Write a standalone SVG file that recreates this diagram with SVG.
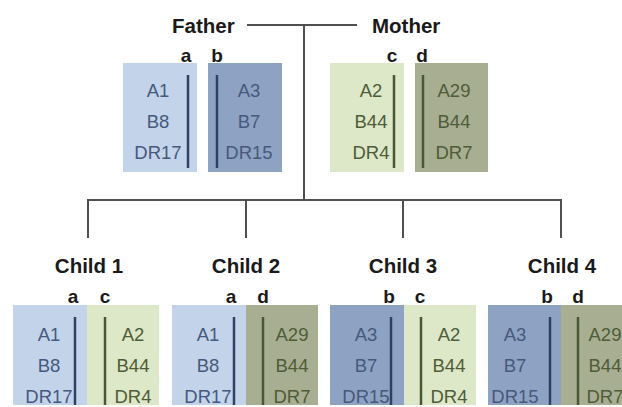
<svg xmlns="http://www.w3.org/2000/svg" width="622" height="407" viewBox="0 0 622 407">
<style>
.hdr{font-family:"Liberation Sans",Arial,sans-serif;font-weight:bold;font-size:20.5px;fill:#1a1a1a}
.let{font-family:"Liberation Sans",Arial,sans-serif;font-weight:bold;font-size:19px;fill:#1a1a1a;text-anchor:middle}
.v{font-family:"Liberation Sans",Arial,sans-serif;font-size:18.5px;text-anchor:middle}
.tb{fill:#46597c}
.tg{fill:#4f5c38}
.ba{fill:#c3d4ea}
.bb{fill:#8ea3c3}
.bc{fill:#dde8c8}
.bd{fill:#a8ae92}
.barb{stroke:#2f4060;stroke-width:2.5}
.barg{stroke:#4b5634;stroke-width:2.5}
.con{stroke:#505050;stroke-width:2;fill:none}
</style>
<g id="connectors">
<line class="con" x1="247" y1="25" x2="357" y2="25"/>
<line class="con" x1="304" y1="25" x2="304" y2="200"/>
<polyline class="con" points="88,238 88,200 561,200 561,238"/>
<line class="con" x1="246" y1="200" x2="246" y2="238"/>
<line class="con" x1="403" y1="200" x2="403" y2="238"/>
</g>
<g id="father">
<text class="hdr" x="172" y="33">Father</text>
<text class="let" x="186" y="62">a</text>
<text class="let" x="217" y="62">b</text>
<rect class="ba" x="123" y="63" width="74" height="109"/>
<rect class="bb" x="208" y="63" width="74" height="109"/>
<line class="barb" x1="188" y1="75" x2="188" y2="168"/>
<line class="barb" x1="217" y1="75" x2="217" y2="168"/>
<text class="v tb" x="158" y="97">A1</text>
<text class="v tb" x="158" y="128">B8</text>
<text class="v tb" x="158" y="159">DR17</text>
<text class="v tb" x="249" y="97">A3</text>
<text class="v tb" x="249" y="128">B7</text>
<text class="v tb" x="249" y="159">DR15</text>
</g>
<g id="mother">
<text class="hdr" x="372" y="33">Mother</text>
<text class="let" x="392" y="62">c</text>
<text class="let" x="422" y="62">d</text>
<rect class="bc" x="330" y="63" width="74" height="109"/>
<rect class="bd" x="415" y="63" width="73" height="109"/>
<line class="barg" x1="394" y1="75" x2="394" y2="168"/>
<line class="barg" x1="423" y1="75" x2="423" y2="168"/>
<text class="v tg" x="371" y="97">A2</text>
<text class="v tg" x="371" y="128">B44</text>
<text class="v tg" x="371" y="159">DR4</text>
<text class="v tg" x="454" y="97">A29</text>
<text class="v tg" x="454" y="128">B44</text>
<text class="v tg" x="454" y="159">DR7</text>
</g>
<g id="child1">
<text class="hdr" x="89" y="273" text-anchor="middle">Child 1</text>
<text class="let" x="73" y="303">a</text>
<text class="let" x="105" y="303">c</text>
<rect class="ba" x="13" y="305" width="74" height="100"/>
<rect class="bc" x="87" y="305" width="72" height="100"/>
<line class="barb" x1="75" y1="317" x2="75" y2="405"/>
<line class="barg" x1="105" y1="317" x2="105" y2="405"/>
<text class="v tb" x="49" y="341">A1</text>
<text class="v tb" x="49" y="372">B8</text>
<text class="v tb" x="49" y="403">DR17</text>
<text class="v tg" x="133" y="341">A2</text>
<text class="v tg" x="133" y="372">B44</text>
<text class="v tg" x="133" y="403">DR4</text>
</g>
<g id="child2">
<text class="hdr" x="246" y="273" text-anchor="middle">Child 2</text>
<text class="let" x="231" y="303">a</text>
<text class="let" x="263" y="303">d</text>
<rect class="ba" x="172" y="305" width="74" height="100"/>
<rect class="bd" x="246" y="305" width="72" height="100"/>
<line class="barb" x1="234" y1="317" x2="234" y2="405"/>
<line class="barg" x1="263" y1="317" x2="263" y2="405"/>
<text class="v tb" x="208" y="341">A1</text>
<text class="v tb" x="208" y="372">B8</text>
<text class="v tb" x="208" y="403">DR17</text>
<text class="v tg" x="292" y="341">A29</text>
<text class="v tg" x="292" y="372">B44</text>
<text class="v tg" x="292" y="403">DR7</text>
</g>
<g id="child3">
<text class="hdr" x="403" y="273" text-anchor="middle">Child 3</text>
<text class="let" x="389" y="303">b</text>
<text class="let" x="420" y="303">c</text>
<rect class="bb" x="330" y="305" width="74" height="100"/>
<rect class="bc" x="404" y="305" width="72" height="100"/>
<line class="barb" x1="391" y1="317" x2="391" y2="405"/>
<line class="barg" x1="421" y1="317" x2="421" y2="405"/>
<text class="v tb" x="366" y="341">A3</text>
<text class="v tb" x="366" y="372">B7</text>
<text class="v tb" x="366" y="403">DR15</text>
<text class="v tg" x="449" y="341">A2</text>
<text class="v tg" x="449" y="372">B44</text>
<text class="v tg" x="449" y="403">DR4</text>
</g>
<g id="child4">
<text class="hdr" x="562" y="273" text-anchor="middle">Child 4</text>
<text class="let" x="547" y="303">b</text>
<text class="let" x="578" y="303">d</text>
<rect class="bb" x="488" y="305" width="73" height="100"/>
<rect class="bd" x="561" y="305" width="61" height="100"/>
<line class="barb" x1="550" y1="317" x2="550" y2="405"/>
<line class="barg" x1="578" y1="317" x2="578" y2="405"/>
<text class="v tb" x="515" y="341">A3</text>
<text class="v tb" x="515" y="372">B7</text>
<text class="v tb" x="515" y="403">DR15</text>
<text class="v tg" x="605" y="341">A29</text>
<text class="v tg" x="605" y="372">B44</text>
<text class="v tg" x="605" y="403">DR7</text>
</g>
</svg>
